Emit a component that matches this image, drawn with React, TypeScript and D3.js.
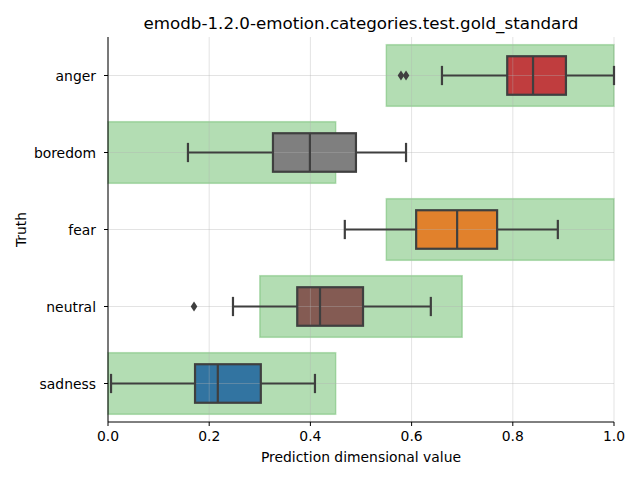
import React from "react";
import * as d3 from "d3";

const categories = ["anger", "boredom", "fear", "neutral", "sadness"];
const whiskerLow = [0.66, 0.158, 0.468, 0.247, 0.006];
const q1 = [0.789, 0.326, 0.609, 0.374, 0.172];
const medians = [0.84, 0.399, 0.69, 0.419, 0.217];
const q3 = [0.905, 0.49, 0.769, 0.504, 0.302];
const whiskerHigh = [1.0, 0.589, 0.889, 0.638, 0.409];
const outliers: number[][] = [[0.579, 0.589], [], [], [0.17], []];
const rangeLow = [0.55, 0.0, 0.55, 0.3, 0.0];
const rangeHigh = [1.0, 0.45, 1.0, 0.7, 0.45];
const boxColors = ["#c03d3e", "#7f7f7f", "#e1812c", "#845b53", "#3274a1"];
const xTicks = [0, 0.2, 0.4, 0.6, 0.8, 1.0];

const W = 640, H = 480;
const L = 108, R = 614, T = 37, B = 422;
const FONT = "DejaVu Sans, sans-serif";
const EDGE = "#3f3f3f";

export default function App() {
  const x = d3.scaleLinear().domain([0, 1]).range([L, R]);
  const y = d3.scaleBand<string>().domain(categories).range([T, B]).paddingInner(0).paddingOuter(0);
  const bw = y.bandwidth();
  const boxH = bw * 0.5;
  const rectH = bw * 0.8;
  const capH = boxH / 2;
  const cyOf = (c: string) => (y(c) as number) + bw / 2;

  return (
    <svg width={W} height={H} style={{ position: "absolute", left: 0, top: 0 }} fontFamily={FONT}>
      <rect x={0} y={0} width={W} height={H} fill="white" />
      {categories.map((c, i) => {
        const cy = cyOf(c);
        return (
          <rect key={"r" + c} x={x(rangeLow[i])} y={cy - rectH / 2}
            width={x(rangeHigh[i]) - x(rangeLow[i])} height={rectH}
            fill="#2ca02c" fillOpacity={0.36} stroke="#2ca02c" strokeOpacity={0.3} strokeWidth={1.5} />
        );
      })}
      {categories.map((c, i) => {
        const cy = cyOf(c);
        return (
          <rect key={"f" + c} x={x(q1[i])} y={cy - boxH / 2} width={x(q3[i]) - x(q1[i])} height={boxH}
            fill={boxColors[i]} stroke="none" />
        );
      })}
      <g stroke="#b0b0b0" strokeOpacity={0.45} strokeWidth={0.8}>
        {xTicks.map((t) => (
          <line key={"gx" + t} x1={x(t)} x2={x(t)} y1={T} y2={B} />
        ))}
        {categories.map((c) => {
          const cy = cyOf(c);
          return <line key={"gy" + c} x1={L} x2={R} y1={cy} y2={cy} />;
        })}
      </g>
      {categories.map((c, i) => {
        const cy = cyOf(c);
        return (
          <g key={"b" + c} stroke={EDGE} strokeWidth={2.2}>
            <line x1={x(whiskerLow[i])} x2={x(q1[i])} y1={cy} y2={cy} />
            <line x1={x(q3[i])} x2={x(whiskerHigh[i])} y1={cy} y2={cy} />
            <line x1={x(whiskerLow[i])} x2={x(whiskerLow[i])} y1={cy - capH / 2} y2={cy + capH / 2} />
            <line x1={x(whiskerHigh[i])} x2={x(whiskerHigh[i])} y1={cy - capH / 2} y2={cy + capH / 2} />
            <rect x={x(q1[i])} y={cy - boxH / 2} width={x(q3[i]) - x(q1[i])} height={boxH} fill="none" />
            <line x1={x(medians[i])} x2={x(medians[i])} y1={cy - boxH / 2} y2={cy + boxH / 2} />
            {outliers[i].map((v, j) => (
              <path key={j} stroke="none" fill={EDGE}
                d={`M${x(v)},${cy - 5} L${x(v) + 3.3},${cy} L${x(v)},${cy + 5} L${x(v) - 3.3},${cy} Z`} />
            ))}
          </g>
        );
      })}
      <line x1={L} x2={R} y1={B} y2={B} stroke="black" strokeWidth={1} />
      <line x1={L} x2={L} y1={T} y2={B} stroke="black" strokeWidth={1} />
      {xTicks.map((t) => (
        <g key={"xt" + t}>
          <line x1={x(t)} x2={x(t)} y1={B} y2={B + 4} stroke="black" />
          <text x={x(t)} y={B + 19} textAnchor="middle" fontSize={13.9} fill="black">{t.toFixed(1)}</text>
        </g>
      ))}
      {categories.map((c) => {
        const cy = cyOf(c);
        return (
          <g key={"yt" + c}>
            <line x1={L - 4} x2={L} y1={cy} y2={cy} stroke="black" />
            <text x={L - 12} y={cy + 5} textAnchor="end" fontSize={13.9} fill="black">{c}</text>
          </g>
        );
      })}
      <text x={(L + R) / 2} y={462} textAnchor="middle" fontSize={13.9}>Prediction dimensional value</text>
      <text transform={`translate(26,${(T + B) / 2}) rotate(-90)`} textAnchor="middle" fontSize={13.9}>Truth</text>
      <text x={(L + R) / 2} y={29} textAnchor="middle" fontSize={16.7}>emodb-1.2.0-emotion.categories.test.gold_standard</text>
    </svg>
  );
}
